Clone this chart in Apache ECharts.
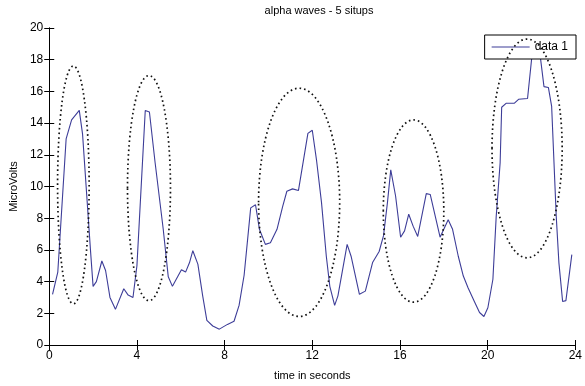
<!DOCTYPE html>
<html>
<head>
<meta charset="utf-8">
<script src="https://cdn.jsdelivr.net/npm/echarts@6/dist/echarts.min.js"></script>
<style>
  html, body { margin: 0; padding: 0; background: #fff; }
  #chart { width: 585px; height: 386px; }
</style>
</head>
<body>
<div id="chart"></div>
<script>
// Sample times (s) and amplitudes (µV) of the alpha-wave trace
const timeSec = [
  0.15, 0.39, 0.77, 1.02, 1.37, 1.52, 1.88, 2.0, 2.15, 2.4, 2.57, 2.77, 3.02,
  3.4, 3.6, 3.82, 4.0, 4.38, 4.57, 4.83, 5.2, 5.43, 5.62, 6.03, 6.22, 6.4,
  6.55, 6.78, 7.0, 7.19, 7.46, 7.76, 8.13, 8.43, 8.66, 8.89, 9.19, 9.41,
  9.59, 9.86, 10.09, 10.39, 10.65, 10.84, 11.1, 11.37, 11.8, 12.0, 12.19,
  12.42, 12.64, 12.8, 13.02, 13.17, 13.59, 13.77, 14.15, 14.42, 14.75,
  15.05, 15.25, 15.43, 15.58, 15.8, 16.03, 16.21, 16.4, 16.6, 16.81, 17.2,
  17.38, 17.83, 18.2, 18.4, 18.66, 18.89, 19.11, 19.41, 19.63, 19.83,
  20.01, 20.24, 20.39, 20.57, 20.64, 20.84, 21.21, 21.41, 21.82, 22.01,
  22.2, 22.41, 22.57, 22.77, 22.92, 23.13, 23.25, 23.42, 23.57, 23.84
];
const microVolts = [
  3.2, 4.6, 13.0, 14.2, 14.8, 13.3, 6.0, 3.7, 4.0, 5.3, 4.7, 3.0, 2.25,
  3.55, 3.15, 3.0, 5.0, 14.8, 14.7, 11.5, 7.3, 4.3, 3.7, 4.75, 4.6, 5.2,
  5.95, 5.1, 3.1, 1.55, 1.2, 1.0, 1.3, 1.5, 2.5, 4.4, 8.65, 8.85,
  7.3, 6.35, 6.45, 7.3, 8.75, 9.7, 9.85, 9.75, 13.35, 13.55, 11.7,
  9.0, 5.6, 3.7, 2.5, 3.1, 6.35, 5.6, 3.2, 3.4, 5.2,
  5.9, 6.9, 9.0, 11.05, 9.4, 6.8, 7.2, 8.25, 7.5, 6.85, 9.55,
  9.5, 6.8, 7.9, 7.3, 5.6, 4.35, 3.6, 2.7, 2.05, 1.8,
  2.35, 4.15, 8.1, 11.5, 15.0, 15.25, 15.25, 15.5, 15.55, 18.1,
  19.0, 18.1, 16.3, 16.25, 15.05, 8.1, 5.2, 2.75, 2.8, 5.7
];

// Highlight rings around the five situp bursts: centre (s, µV) and radii
const ringCenterX = [1.1, 4.55, 11.4, 16.62, 21.8];
const ringCenterY = [10.1, 9.9, 9.0, 8.45, 12.4];
const ringRadiusX = [0.72, 0.98, 1.85, 1.38, 1.6];
const ringRadiusY = [7.5, 7.1, 7.2, 5.75, 6.9];

const xTicks = { min: 0, max: 24, interval: 4 };
const yTicks = { min: 0, max: 20, interval: 2 };

const seriesName = 'data 1';
const FONT = 'Liberation Sans, Arial, sans-serif';
const TRACE_COLOR = '#3d3d98';

const lineData = timeSec.map((t, i) => [t, microVolts[i]]);
const ringData = ringCenterX.map((cx, i) => [cx, ringCenterY[i], ringRadiusX[i], ringRadiusY[i]]);

const boxAxisCommon = {
  axisLine: { show: true, lineStyle: { color: '#000', width: 1 } },
  axisTick: { show: true, inside: true, length: 5, lineStyle: { color: '#000' } },
  splitLine: { show: false }
};

const chart = echarts.init(document.getElementById('chart'), null, { renderer: 'canvas' });
chart.setOption({
  animation: false,
  backgroundColor: '#fff',
  textStyle: { fontFamily: FONT },
  title: {
    text: 'alpha waves - 5 situps',
    left: 314,
    textAlign: 'center',
    top: 0,
    textStyle: { fontSize: 11, fontWeight: 'normal', color: '#000', fontFamily: FONT }
  },
  grid: { left: 48, right: 5, top: 28, bottom: 40, containLabel: false },
  legend: {
    data: [{ name: seriesName, icon: 'rect' }],
    right: 9,
    top: 35,
    z: 20,
    orient: 'horizontal',
    backgroundColor: '#fff',
    borderColor: '#000',
    borderWidth: 1,
    borderRadius: 0,
    padding: [6, 8, 6, 7],
    itemWidth: 38,
    itemHeight: 1.2,
    itemGap: 4,
    textStyle: { fontSize: 12, color: '#000', fontFamily: FONT, lineHeight: 12 }
  },
  xAxis: [
    Object.assign({
      type: 'value',
      position: 'bottom',
      min: xTicks.min, max: xTicks.max, interval: xTicks.interval,
      name: 'time in seconds',
      nameLocation: 'middle',
      nameGap: 25,
      nameTextStyle: { fontSize: 11, color: '#000', fontFamily: FONT },
      axisLabel: { show: true, fontSize: 12, color: '#000', margin: 5, fontFamily: FONT }
    }, boxAxisCommon),
    Object.assign({
      type: 'value',
      position: 'top',
      min: xTicks.min, max: xTicks.max, interval: xTicks.interval,
      axisLabel: { show: false }
    }, boxAxisCommon)
  ],
  yAxis: [
    Object.assign({
      type: 'value',
      position: 'left',
      min: yTicks.min, max: yTicks.max, interval: yTicks.interval,
      name: 'MicroVolts',
      nameLocation: 'middle',
      nameGap: 30,
      nameTextStyle: { fontSize: 11, color: '#000', fontFamily: FONT },
      axisLabel: { show: true, fontSize: 12, color: '#000', margin: 6, fontFamily: FONT }
    }, boxAxisCommon),
    Object.assign({
      type: 'value',
      position: 'right',
      min: yTicks.min, max: yTicks.max, interval: yTicks.interval,
      axisLabel: { show: false }
    }, boxAxisCommon)
  ],
  series: [
    {
      name: seriesName,
      type: 'line',
      xAxisIndex: 0,
      yAxisIndex: 0,
      data: lineData,
      symbol: 'none',
      smooth: false,
      z: 2,
      lineStyle: { color: TRACE_COLOR, width: 1.1 },
      itemStyle: { color: TRACE_COLOR }
    },
    {
      name: 'rings',
      type: 'custom',
      xAxisIndex: 0,
      yAxisIndex: 0,
      data: ringData,
      clip: false,
      silent: true,
      z: 30,
      renderItem: function (params, api) {
        const c = api.coord([api.value(0), api.value(1)]);
        const s = api.size([api.value(2), api.value(3)]);
        return {
          type: 'ellipse',
          shape: { cx: c[0], cy: c[1], rx: s[0], ry: s[1] },
          style: { fill: null, stroke: '#111', lineWidth: 1.7, lineDash: [1.6, 3] }
        };
      }
    }
  ]
});
</script>
</body>
</html>
